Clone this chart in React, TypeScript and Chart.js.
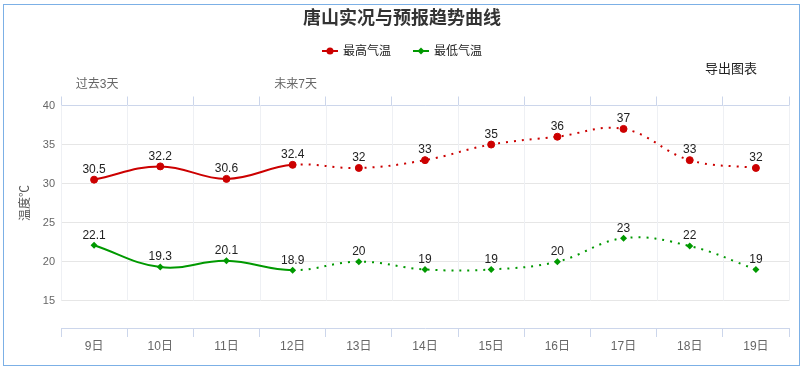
import React, { useEffect, useRef } from 'react';
import { Chart, registerables } from 'chart.js';

Chart.register(...registerables);

const chartTitle = '唐山实况与预报趋势曲线';
const yAxisTitle = '温度℃';
const exportLabel = '导出图表';
const categories = ['9日', '10日', '11日', '12日', '13日', '14日', '15日', '16日', '17日', '18日', '19日'];
const periodLabels = ['过去3天', '', '', '未来7天', '', '', '', '', '', '', ''];
const seriesNames = ['最高气温', '最低气温'];
const maxTemps = [30.5, 32.2, 30.6, 32.4, 32, 33, 35, 36, 37, 33, 32];
const minTemps = [22.1, 19.3, 20.1, 18.9, 20, 19, 19, 20, 23, 22, 19];
const yTicks = [15, 20, 25, 30, 35, 40];
const forecastStartIndex = 3;

const RED = '#cc0000';
const GREEN = '#009900';
const FONT = "'Liberation Sans', 'Noto Sans CJK SC', sans-serif";

export default function App() {
  const canvasRef = useRef<HTMLCanvasElement | null>(null);

  useEffect(() => {
    document.body.style.margin = '0';
    const canvas = canvasRef.current;
    if (!canvas) return;

    const dotted = (ctx: any) => (ctx.p0DataIndex >= forecastStartIndex ? [2, 6] : undefined);

    const vGridPlugin = {
      id: 'vgrid',
      beforeDatasetsDraw(chart: any) {
        const { ctx } = chart;
        const xs = chart.scales.x;
        const ys = chart.scales.y;
        const n = categories.length;
        const w = (xs.right - xs.left) / n;
        const yTop = ys.getPixelForValue(yTicks[yTicks.length - 1]);
        const yBot = ys.getPixelForValue(yTicks[0]);
        ctx.save();
        ctx.strokeStyle = '#eef0f4';
        ctx.lineWidth = 1;
        for (let i = 0; i <= n; i++) {
          const x = Math.round(xs.left + i * w) + 0.5;
          ctx.beginPath();
          ctx.moveTo(x, yTop);
          ctx.lineTo(x, yBot);
          ctx.stroke();
        }
        ctx.restore();
      },
    };

    const labelsPlugin = {
      id: 'dlabels',
      afterDatasetsDraw(chart: any) {
        const { ctx } = chart;
        ctx.save();
        ctx.font = `12px ${FONT}`;
        ctx.fillStyle = '#222';
        ctx.textAlign = 'center';
        ctx.textBaseline = 'bottom';
        chart.data.datasets.forEach((ds: any, di: number) => {
          const meta = chart.getDatasetMeta(di);
          meta.data.forEach((pt: any, i: number) => {
            ctx.fillText(String(ds.data[i]), pt.x, pt.y - 4);
          });
        });
        ctx.restore();
      },
    };

    const decorPlugin = {
      id: 'decor',
      afterDraw(chart: any) {
        const { ctx } = chart;
        const W = chart.width;
        ctx.save();
        // title
        ctx.font = `bold 18px ${FONT}`;
        ctx.fillStyle = '#333';
        ctx.textAlign = 'center';
        ctx.textBaseline = 'middle';
        ctx.fillText(chartTitle, W / 2, 19);

        // legend
        ctx.font = `12px ${FONT}`;
        const colors = [RED, GREEN];
        const sym = 16, gapSym = 5, gapItem = 22;
        const widths = seriesNames.map((s) => ctx.measureText(s).width);
        const total = widths.reduce((a, b) => a + b, 0) + seriesNames.length * (sym + gapSym) + gapItem * (seriesNames.length - 1);
        let x = W / 2 - total / 2;
        const ly = 51;
        seriesNames.forEach((name, i) => {
          ctx.strokeStyle = colors[i];
          ctx.fillStyle = colors[i];
          ctx.lineWidth = 2;
          ctx.beginPath();
          ctx.moveTo(x, ly);
          ctx.lineTo(x + sym, ly);
          ctx.stroke();
          const cx = x + sym / 2;
          ctx.beginPath();
          if (i === 0) {
            ctx.arc(cx, ly, 3.5, 0, Math.PI * 2);
          } else {
            ctx.moveTo(cx, ly - 3.5);
            ctx.lineTo(cx + 3.5, ly);
            ctx.lineTo(cx, ly + 3.5);
            ctx.lineTo(cx - 3.5, ly);
            ctx.closePath();
          }
          ctx.fill();
          ctx.fillStyle = '#222';
          ctx.textAlign = 'left';
          ctx.fillText(name, x + sym + gapSym, ly + 1);
          x += sym + gapSym + widths[i] + gapItem;
        });

        // export button text
        ctx.font = `13px ${FONT}`;
        ctx.fillStyle = '#222';
        ctx.textAlign = 'left';
        ctx.fillText(exportLabel, 705, 69);

        // y axis title
        const ys = chart.scales.y;
        const midY = (ys.getPixelForValue(yTicks[0]) + ys.getPixelForValue(yTicks[yTicks.length - 1])) / 2;
        ctx.translate(26, midY);
        ctx.rotate(-Math.PI / 2);
        ctx.font = `12px ${FONT}`;
        ctx.fillStyle = '#555';
        ctx.textAlign = 'center';
        ctx.fillText(yAxisTitle, 0, 0);
        ctx.restore();
      },
    };

    const chart = new Chart(canvas, {
      type: 'line',
      data: {
        labels: categories,
        datasets: [
          {
            label: seriesNames[0],
            data: maxTemps,
            borderColor: RED,
            backgroundColor: RED,
            borderWidth: 2,
            pointRadius: 3.5,
            pointHoverRadius: 3.5,
            pointStyle: 'circle',
            pointBorderWidth: 1,
            tension: 0.4,
            fill: false,
            segment: { borderDash: dotted },
          },
          {
            label: seriesNames[1],
            data: minTemps,
            borderColor: GREEN,
            backgroundColor: GREEN,
            borderWidth: 2,
            pointRadius: 3.5,
            pointHoverRadius: 3.5,
            pointStyle: 'rectRot',
            pointBorderWidth: 0,
            tension: 0.4,
            fill: false,
            segment: { borderDash: dotted },
          },
        ],
      },
      options: {
        responsive: false,
        animation: false,
        devicePixelRatio: 1,
        layout: { padding: { left: 0, right: 15, top: 0, bottom: 0 } },
        plugins: {
          legend: { display: false },
          title: { display: false },
          tooltip: { enabled: false },
        },
        scales: {
          x: {
            type: 'category',
            position: 'bottom',
            offset: true,
            grid: { offset: true, drawOnChartArea: false, drawTicks: true, tickLength: 9, color: '#ccd6eb' },
            border: { display: true, color: '#ccd6eb' },
            ticks: { color: '#666', font: { size: 12, family: FONT }, padding: 2, maxRotation: 0, autoSkip: false },
            afterFit: (s: any) => { s.height = 41; },
          },
          x2: {
            type: 'category',
            position: 'top',
            labels: periodLabels,
            offset: true,
            grid: { offset: true, drawOnChartArea: false, drawTicks: true, tickLength: 9, color: '#ccd6eb' },
            border: { display: true, color: '#ccd6eb' },
            ticks: { color: '#666', font: { size: 12, family: FONT }, padding: 5, maxRotation: 0, autoSkip: false, labelOffset: 3 },
            afterFit: (s: any) => { s.height = 105.5; },
          },
          y: {
            type: 'linear',
            min: 11.5,
            max: 40,
            afterBuildTicks: (s: any) => { s.ticks = yTicks.map((v) => ({ value: v })); },
            grid: { color: '#e6e6e6', drawTicks: false },
            border: { display: false },
            ticks: { color: '#666', font: { size: 11, family: FONT }, padding: 6 },
            afterFit: (s: any) => { s.width = 61; },
          },
        },
      },
      plugins: [vGridPlugin, labelsPlugin, decorPlugin],
    });

    return () => chart.destroy();
  }, []);

  return (
    <div style={{ position: 'relative', width: 804, height: 369, background: '#fff' }}>
      <div
        style={{
          position: 'absolute',
          left: 3,
          top: 4,
          width: 797,
          height: 362,
          boxSizing: 'border-box',
          border: '1px solid #7cb0e6',
        }}
      />
      <canvas ref={canvasRef} width={804} height={369} style={{ position: 'absolute', left: 0, top: 0 }} />
    </div>
  );
}
